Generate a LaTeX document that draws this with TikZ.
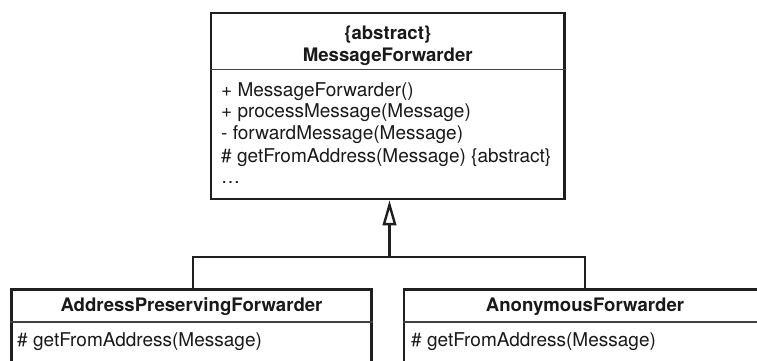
\documentclass[tikz,border=0pt]{standalone}
\usepackage{fontspec}
\setmainfont{TeX Gyre Heros}
\usetikzlibrary{arrows.meta}
\begin{document}
\begin{tikzpicture}[x=1pt,y=-1pt,
  classbox/.style={draw=black!88, line width=2.6pt, rectangle, inner sep=0pt, fill=white},
  sep/.style={draw=black!75, line width=1.2pt},
  conn/.style={draw=black!88, line width=2.4pt},
  txt/.style={inner sep=0pt, font=\fontsize{19}{22}\selectfont, text=black!90},
  hd/.style={txt, font=\fontsize{18.6}{22}\selectfont\bfseries}
]
\useasboundingbox (0,0) rectangle (757,360);
\clip (0,0) rectangle (757,360);
\fill[white] (0,0) rectangle (757,360);

% top class
\node[classbox, minimum width=353.5pt, minimum height=186pt] (mf) at (387.75,106) {};
\draw[sep] ([yshift=-58pt]mf.north west) -- ([yshift=-58pt]mf.north east);
\node[hd, anchor=base] (mfa) at (387.75,39.5) {\{abstract\}};
\node[hd, anchor=base] (mfn) at (387.75,61.7) {MessageForwarder};
\node[txt, anchor=base west] (m1) at (221,96) {+ MessageForwarder()};
\node[txt, anchor=base west] (m2) at (221,117.8) {+ processMessage(Message)};
\node[txt, anchor=base west] (m3) at (221,139.8) {- forwardMessage(Message)};
\node[txt, anchor=base west] (m4) at (221,162) {\# getFromAddress(Message) \{abstract\}};
\node[txt, anchor=base west] (m5) at (221,183) {\ldots};

% child classes
\node[classbox, minimum width=360.5pt, minimum height=110pt, anchor=north] (apf) at (191.5,288) {};
\node[classbox, minimum width=362pt, minimum height=110pt, anchor=north] (anf) at (585,288) {};
\draw[sep] ([yshift=-34pt]apf.north west) -- ([yshift=-34pt]apf.north east);
\draw[sep] ([yshift=-34pt]anf.north west) -- ([yshift=-34pt]anf.north east);
\node[hd, anchor=base] (apfn) at (191.5,311) {AddressPreservingForwarder};
\node[hd, anchor=base] (anfn) at (585,311) {AnonymousForwarder};
\node[txt, anchor=base west] (apfm) at (17,346.5) {\# getFromAddress(Message)};
\node[txt, anchor=base west] (anfm) at (411,346.5) {\# getFromAddress(Message)};

% generalization
\coordinate (j) at (389.5,257);
\draw[conn] ([xshift=1.5pt]apf.north) |- (j) -| (anf.north);
\draw[conn, -{Triangle[open, length=25pt, width=13.5pt, fill=white]}] (j) -- (j |- mf.south);
\end{tikzpicture}
\end{document}
